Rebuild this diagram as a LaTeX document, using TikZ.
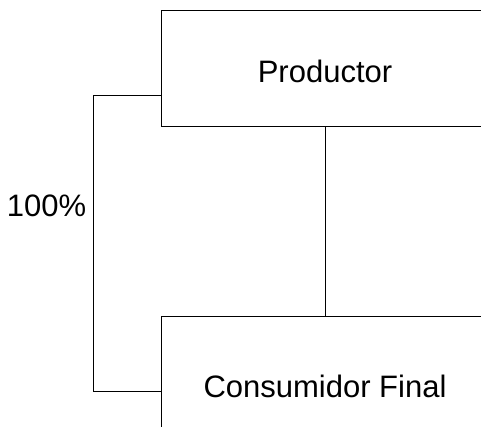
\documentclass[tikz,border=0pt]{standalone}
\usepackage{fontspec}
\setmainfont{Liberation Sans}
\tikzset{
  box/.style={draw, line width=1pt, minimum width=328pt, text height=28pt, text depth=0pt},
  txt/.style={font=\fontsize{31pt}{37pt}\selectfont},
}
\begin{document}
\begin{tikzpicture}[x=1pt,y=-1pt,line width=1pt]
  % Page size and clip
  \useasboundingbox (0,0) rectangle (481,427);
  \clip (0,0) rectangle (481,427);

  % Boxes for the two levels
  \node[box, txt, minimum height=116pt] (productor) at (325,69) {Productor};
  \node[box, txt, minimum height=134pt] (consumidor) at (325,383) {Consumidor Final};

  % Direct link between them
  \draw (productor.south) -- (consumidor.north);

  % Bracket on the left with its share
  \draw (productor.south west) ++(0,-32) -- ++(-67,0) coordinate (bracket)
        |- ([yshift=-8pt]consumidor.west);
  \node[txt, anchor=base east] (share) at (90,217) {100\%};
\end{tikzpicture}
\end{document}
